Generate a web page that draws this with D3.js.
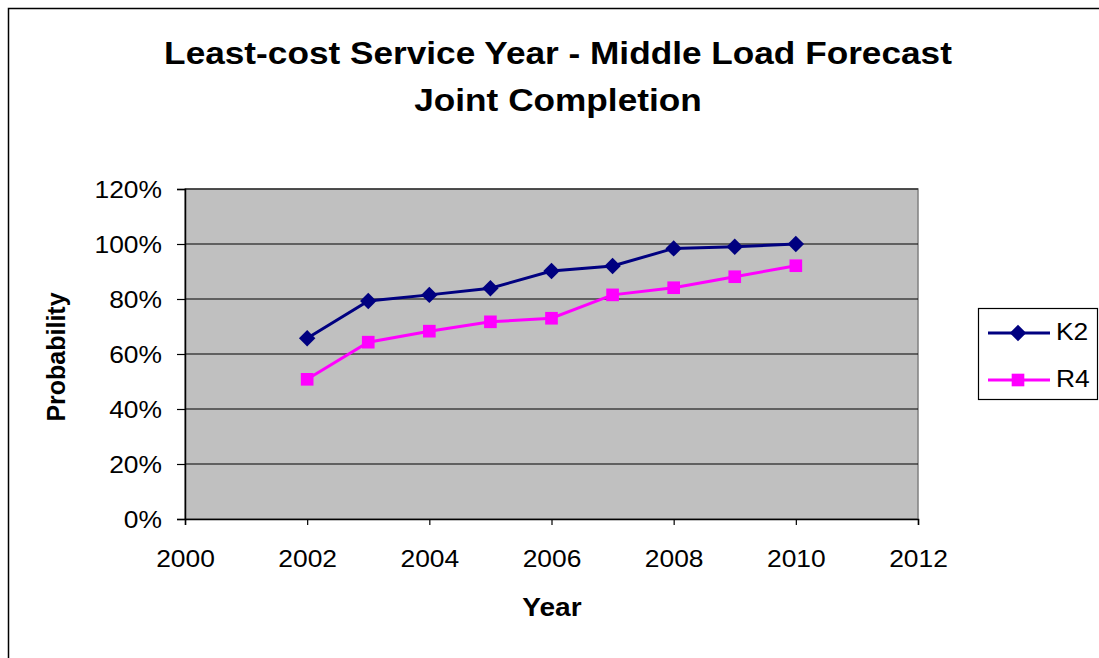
<!DOCTYPE html>
<html><head><meta charset="utf-8">
<script src="https://cdn.jsdelivr.net/npm/d3@7"></script>
<style>body{margin:0;background:#fff}svg{display:block;font-family:"Liberation Sans",Arial,sans-serif}</style>
</head><body><svg id="c" width="1099" height="658"></svg>
<script>
const years = [2002,2003,2004,2005,2006,2007,2008,2009,2010];
const k2 = [65.7,79.3,81.5,83.9,90.2,92.0,98.4,99.0,100.0];
const r4 = [50.8,64.3,68.3,71.7,73.0,81.5,84.1,88.1,92.1];
const xTicks = [2000,2002,2004,2006,2008,2010,2012];
const yTicks = [0,20,40,60,80,100,120];
const seriesNames = ["K2","R4"];
const titleLines = ["Least-cost Service Year - Middle Load Forecast","Joint Completion"];

const STRETCH = 1.1;
const FONT = "Liberation Sans, Arial, sans-serif";
const svg = d3.select("#c");
svg.append("rect").attr("x",8.5).attr("y",8.5).attr("width",1200).attr("height",700)
  .attr("fill","#fff").attr("stroke","#000").attr("stroke-width",1.5);

const L=185,R=918,T=189,B=519;
const x = d3.scaleLinear().domain([2000,2012]).range([L,R]);
const y = d3.scaleLinear().domain([0,120]).range([B,T]);

svg.append("rect").attr("x",L).attr("y",T).attr("width",R-L).attr("height",B-T)
  .attr("fill","#C0C0C0").attr("stroke","#808080").attr("stroke-width",1.5);

svg.append("g").selectAll("line").data(yTicks.filter(d=>d>0)).join("line")
  .attr("x1",L).attr("x2",R).attr("y1",d=>y(d)).attr("y2",d=>y(d))
  .attr("stroke","#000").attr("stroke-width",1.2);

const yAxis = svg.append("g").attr("transform",`translate(${L},0)`)
  .call(d3.axisLeft(y).tickValues(yTicks).tickFormat(d=>d+"%").tickSize(8).tickPadding(15));
const xAxis = svg.append("g").attr("transform",`translate(0,${B})`)
  .call(d3.axisBottom(x).tickValues(xTicks).tickFormat(d3.format("d")).tickSize(6));
[yAxis,xAxis].forEach(a=>{
  a.select(".domain").attr("stroke","#000").attr("stroke-width",1.5);
  a.selectAll(".tick line").attr("stroke","#000").attr("stroke-width",1.2);
  a.selectAll("text").attr("font-size",24).attr("fill","#000").attr("font-family",FONT).classed("st",true);
});
yAxis.selectAll("text").attr("dy","0.36em");
xAxis.selectAll("text").attr("y",48).attr("dy",0);

const line = d3.line().x((d,i)=>x(years[i])).y(d=>y(d));
const colors = ["#000080","#FF00FF"];
const data = [k2,r4];
const diamondPath = d3.symbol().type(d3.symbolSquare).size(135)();
const squarePath = d3.symbol().type(d3.symbolSquare).size(160)();
const marker = (si)=> si===0 ? diamondPath : squarePath;
const rot = (si)=> si===0 ? " rotate(45)" : "";

data.forEach((vals,si)=>{
  svg.append("path").datum(vals).attr("d",line).attr("fill","none")
    .attr("stroke",colors[si]).attr("stroke-width",3);
  svg.append("g").selectAll("path").data(vals).join("path")
    .attr("transform",(d,i)=>`translate(${x(years[i])},${y(d)})${rot(si)}`)
    .attr("d", marker(si))
    .attr("fill",colors[si]);
});

// title
svg.append("g").selectAll("text").data(titleLines).join("text")
  .attr("x",558).attr("y",(d,i)=>64+i*47).attr("text-anchor","middle")
  .attr("font-size",32).attr("font-weight","bold").classed("st",true).text(d=>d);

svg.append("text").attr("transform","translate(65,357) rotate(-90)").attr("text-anchor","middle")
  .attr("font-size",25).attr("font-weight","bold").text("Probability");
svg.append("text").attr("x",552).attr("y",616).attr("text-anchor","middle")
  .attr("font-size",25.5).attr("font-weight","bold").classed("st",true).text("Year");

// legend
const lg = svg.append("g");
lg.append("rect").attr("x",978.5).attr("y",308.5).attr("width",119).attr("height",91)
  .attr("fill","#fff").attr("stroke","#000").attr("stroke-width",1.2);
seriesNames.forEach((n,i)=>{
  const cy = 333 + i*47;
  lg.append("line").attr("x1",988).attr("x2",1050).attr("y1",cy).attr("y2",cy)
    .attr("stroke",colors[i]).attr("stroke-width",3);
  lg.append("path").attr("transform",`translate(1018,${cy})${rot(i)}`)
    .attr("d", marker(i))
    .attr("fill",colors[i]);
  lg.append("text").attr("x",1056).attr("y",cy+7).attr("font-size",24).classed("st",true).text(n);
});

// horizontal stretch of texts to match reference rendering
svg.selectAll("text.st").each(function(){
  const w = this.getComputedTextLength();
  d3.select(this).attr("textLength", w*STRETCH).attr("lengthAdjust","spacingAndGlyphs");
});
</script></body></html>
